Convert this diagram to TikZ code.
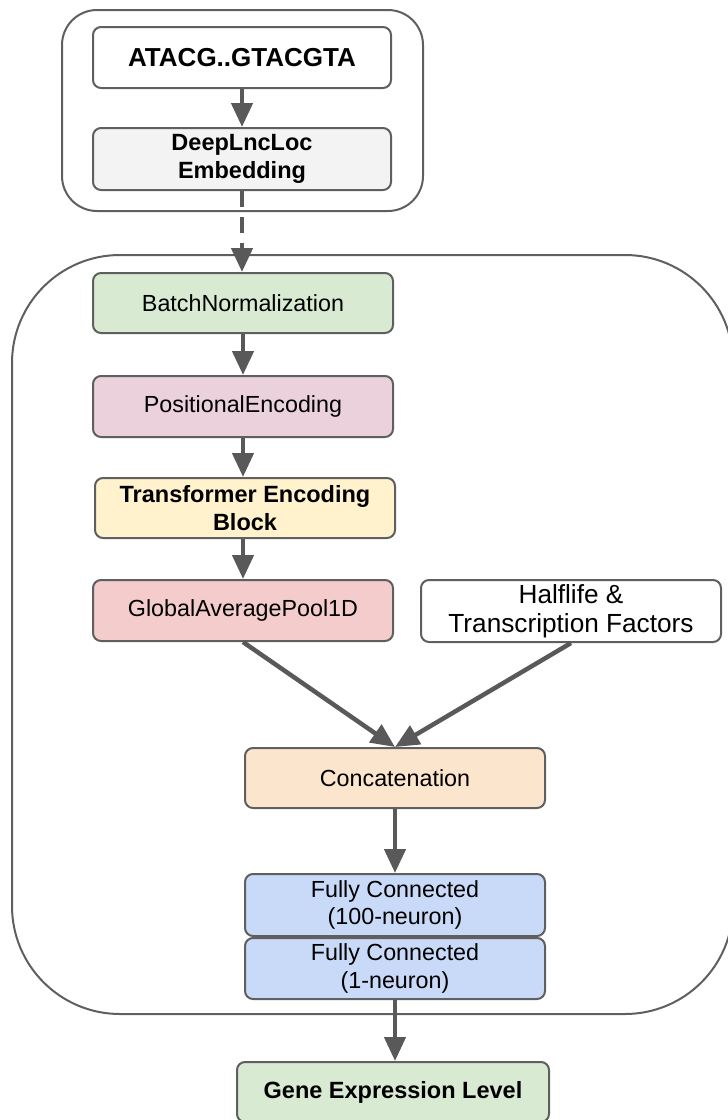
\documentclass[tikz,border=0pt]{standalone}
\usepackage{fontspec}
\setmainfont{Liberation Sans}
\usetikzlibrary{arrows.meta}
\definecolor{edge}{HTML}{595959}
\definecolor{boxline}{HTML}{5F5F5F}
\definecolor{embfill}{HTML}{F3F3F3}
\definecolor{greenfill}{HTML}{D9EAD3}
\definecolor{pinkfill}{HTML}{EAD1DC}
\definecolor{yellowfill}{HTML}{FFF2CC}
\definecolor{redfill}{HTML}{F4CCCC}
\definecolor{orangefill}{HTML}{FCE5CD}
\definecolor{bluefill}{HTML}{C9DAF8}
\tikzset{
  layer/.style={draw=boxline, line width=2pt, rounded corners=8pt, minimum width=300pt, minimum height=61pt, align=center, inner sep=0pt, font=\fontsize{23.3}{27.5}\selectfont},
  boldlayer/.style={layer, font=\fontsize{23.5}{27.5}\selectfont\bfseries},
  container/.style={draw=boxline, line width=2pt},
  flow/.style={draw=edge, line width=4.5pt, -{Triangle[length=24pt, width=21pt]}},
  dflow/.style={flow, dash pattern=on 16pt off 10pt}
}
\begin{document}
\begin{tikzpicture}[x=1pt, y=-1pt]
\useasboundingbox (0,0) rectangle (728,1120);
% containers
\draw[container, rounded corners=35pt] (62,10) rectangle (423,211);
\draw[container, rounded corners=108pt] (12,255) rectangle (733,1014);
% nodes
\node[boldlayer, fill=white, minimum width=298pt, font=\fontsize{26}{30}\selectfont\bfseries] (seq) at (242,57.5) {ATACG..GTACGTA};
\node[boldlayer, fill=embfill, minimum width=298pt, minimum height=62pt] (emb) at (242,159) {DeepLncLoc\\Embedding};
\node[layer, fill=greenfill, minimum height=60pt] (bn) at (243,303) {BatchNormalization};
\node[layer, fill=pinkfill] (pe) at (243,406.5) {PositionalEncoding};
\node[boldlayer, fill=yellowfill, minimum height=60pt] (tr) at (245,508) {Transformer Encoding\\Block};
\node[layer, fill=redfill] (gap) at (243,610.5) {GlobalAveragePool1D};
\node[layer, fill=white, minimum height=62pt, font=\fontsize{26.2}{29.5}\selectfont] (hl) at (571,611) {Halflife \&\\Transcription Factors};
\node[layer, fill=orangefill, minimum height=60pt] (cat) at (395,778) {Concatenation};
\node[layer, fill=bluefill, minimum height=62pt] (fca) at (395,905) {Fully Connected\\(100-neuron)};
\node[layer, fill=bluefill] (fcb) at (395,968.5) {Fully Connected\\(1-neuron)};
\node[boldlayer, fill=greenfill, minimum width=312pt, minimum height=60pt] (gel) at (393,1092) {Gene Expression Level};
% connectors
\draw[flow] (seq.south) -- (emb.north);
\draw[dflow] (emb.south) -- (emb.south |- bn.north);
\draw[flow] (bn.south) -- (pe.north);
\draw[flow] (pe.south) -- (pe.south |- tr.north);
\draw[flow] (tr.south -| gap.south) -- (gap.north);
\draw[flow] (gap.south) -- (cat.north);
\draw[flow] (hl.south) -- (cat.north);
\draw[flow] (cat.south) -- (fca.north);
\draw[flow] (fcb.south) -- (fcb.south |- gel.north);
\end{tikzpicture}
\end{document}
